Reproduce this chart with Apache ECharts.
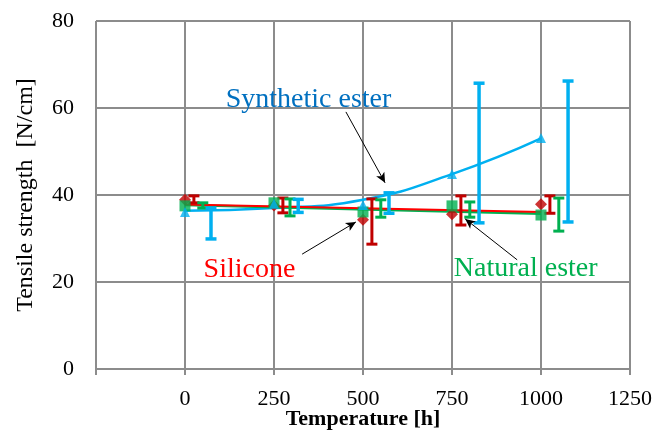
<!DOCTYPE html>
<html>
<head>
<meta charset="utf-8">
<script src="https://cdn.jsdelivr.net/npm/echarts@6/dist/echarts.min.js"></script>
<style>
  html, body { margin: 0; padding: 0; background: #fff; }
  #main { width: 657px; height: 432px; }
</style>
</head>
<body>
<div id="main"></div>
<script>
// ageing time [h]
var hours = [0, 250, 500, 750, 1000];
var xTicks = [-250, 0, 250, 500, 750, 1000, 1250];
var yTicks = [0, 20, 40, 60, 80];

// mean tensile strength [N/cm]
var silicone = [38.9, 37.6, 34.3, 35.6, 37.9];
var natural = [37.5, 38.2, 36.1, 37.5, 35.4];
var synthetic = [36.1, 38.0, 37.7, 44.8, 53.1];

// trend lines
var siliconeTrend = [[0, 37.8], [1000, 36.1]];
var naturalTrend = [[0, 37.7], [1000, 35.7]];
var syntheticTrend = [[0, 36.4], [250, 37.0], [500, 38.9], [750, 44.8], [1000, 53.0]];

// error bars (drawn a bit to the right of each point)
var siliconeErrX = [25, 275, 525, 775, 1025];
var siliconeLow = [38.2, 35.9, 28.7, 33.1, 35.8];
var siliconeHigh = [39.8, 39.3, 39.1, 39.8, 39.8];
var naturalErrX = [50, 295, 550, 800, 1050];
var naturalLow = [37.0, 35.2, 34.9, 34.9, 31.7];
var naturalHigh = [38.2, 39.1, 38.9, 38.4, 39.3];
var syntheticErrX = [73, 318, 573, 826, 1076];
var syntheticLow = [29.9, 36.0, 35.8, 33.6, 33.8];
var syntheticHigh = [37.0, 39.0, 40.5, 65.7, 66.2];

var RED = "#c00000", RED_LINE = "#ff0000", GREEN = "#00b050", BLUE = "#00b0f0";
var FONT = "Liberation Serif";

function pairs(xs, ys) {
  return xs.map(function (x, i) { return [x, ys[i]]; });
}
function errData(xs, lo, hi) {
  return xs.map(function (x, i) { return [x, lo[i], hi[i]]; });
}
function errSeries(name, data, color, w) {
  return {
    name: name,
    type: "custom",
    data: data,
    z: 4,
    silent: true,
    renderItem: function (params, api) {
      var x = api.value(0);
      var top = api.coord([x, api.value(2)]);
      var bot = api.coord([x, api.value(1)]);
      var h = 5.5;
      var st = { stroke: color, lineWidth: w };
      return {
        type: "group",
        children: [
          { type: "line", shape: { x1: top[0], y1: top[1], x2: bot[0], y2: bot[1] }, style: st },
          { type: "line", shape: { x1: top[0] - h, y1: top[1], x2: top[0] + h, y2: top[1] }, style: st },
          { type: "line", shape: { x1: bot[0] - h, y1: bot[1], x2: bot[0] + h, y2: bot[1] }, style: st },
        ],
      };
    },
  };
}

var arrowStyle = { color: "#000", width: 1, type: "solid" };

var myChart = echarts.init(document.getElementById("main"));
var option = {
  backgroundColor: "#fff",
  animation: false,
  grid: { left: 96, right: 27, top: 21, bottom: 63, outerBoundsMode: "none", containLabel: false },
  xAxis: {
    type: "value",
    min: xTicks[0],
    max: xTicks[xTicks.length - 1],
    interval: 250,
    name: "Temperature [h]",
    nameLocation: "middle",
    nameGap: 39,
    nameMoveOverlap: false,
    nameTextStyle: { fontFamily: FONT, fontSize: 22, fontWeight: "bold", color: "#000" },
    axisLine: { show: true, lineStyle: { color: "#8c8c8c", width: 2 } },
    axisTick: { show: true, length: 6, lineStyle: { color: "#8c8c8c", width: 2 } },
    axisLabel: {
      margin: 19,
      fontFamily: FONT,
      fontSize: 22,
      color: "#000",
      formatter: function (v) { return v < 0 ? "" : String(v); },
    },
    splitLine: { show: true, lineStyle: { color: "#8c8c8c", width: 2 } },
  },
  yAxis: {
    type: "value",
    min: yTicks[0],
    max: yTicks[yTicks.length - 1],
    interval: 20,
    name: "Tensile strength  [N/cm]",
    nameLocation: "middle",
    nameGap: 58,
    nameMoveOverlap: false,
    nameTextStyle: { fontFamily: FONT, fontSize: 24, color: "#000" },
    axisLine: { show: true, lineStyle: { color: "#8c8c8c", width: 2 } },
    axisTick: { show: true, length: 7, lineStyle: { color: "#8c8c8c", width: 2 } },
    axisLabel: { margin: 22, fontFamily: FONT, fontSize: 22, color: "#000" },
    splitLine: { show: true, lineStyle: { color: "#8c8c8c", width: 2 } },
  },
  series: [
    {
      name: "synthetic trend",
      type: "line",
      data: syntheticTrend,
      smooth: true,
      showSymbol: false,
      lineStyle: { color: BLUE, width: 2.5 },
      z: 2,
      silent: true,
    },
    {
      name: "natural trend",
      type: "line",
      data: naturalTrend,
      showSymbol: false,
      lineStyle: { color: GREEN, width: 2.5 },
      z: 2,
      silent: true,
    },
    {
      name: "silicone trend",
      type: "line",
      data: siliconeTrend,
      showSymbol: false,
      lineStyle: { color: RED_LINE, width: 2 },
      z: 3,
      silent: true,
      markLine: {
        silent: true,
        symbol: ["none", "arrow"],
        symbolSize: [7, 10],
        label: { show: false },
        lineStyle: arrowStyle,
        data: [
          [{ coord: [452, 59.1] }, { coord: [562, 42.8] }],
          [{ coord: [329, 26.4] }, { coord: [480, 33.8] }],
          [{ coord: [933, 25.1] }, { coord: [787, 34.5] }],
        ],
      },
    },
    errSeries("silicone err", errData(siliconeErrX, siliconeLow, siliconeHigh), RED, 3),
    errSeries("natural err", errData(naturalErrX, naturalLow, naturalHigh), GREEN, 3),
    errSeries("synthetic err", errData(syntheticErrX, syntheticLow, syntheticHigh), BLUE, 3.5),
    {
      name: "Silicone",
      type: "scatter",
      data: pairs(hours, silicone),
      symbol: "diamond",
      symbolSize: 12,
      itemStyle: { color: RED },
      z: 5,
    },
    {
      name: "Natural ester",
      type: "scatter",
      data: pairs(hours, natural),
      symbol: "rect",
      symbolSize: 11,
      itemStyle: { color: GREEN },
      z: 6,
    },
    {
      name: "Synthetic ester",
      type: "scatter",
      data: pairs(hours, synthetic),
      symbol: "triangle",
      symbolSize: 10,
      itemStyle: { color: BLUE },
      z: 7,
    },
  ],
};
myChart.setOption(option);

// text labels placed in data coordinates
var labels = [
  { text: "Synthetic ester", at: [347, 62], color: "#0070c0" },
  { text: "Silicone", at: [181, 22.8], color: "#ff0000" },
  { text: "Natural ester", at: [957, 23], color: GREEN },
];
myChart.setOption({
  graphic: labels.map(function (l) {
    var p = myChart.convertToPixel({ gridIndex: 0 }, l.at);
    return {
      type: "text",
      x: p[0],
      y: p[1],
      z: 10,
      style: {
        text: l.text,
        fill: l.color,
        font: "28px '" + FONT + "'",
        align: "center",
        verticalAlign: "middle",
      },
    };
  }),
});
</script>
</body>
</html>
